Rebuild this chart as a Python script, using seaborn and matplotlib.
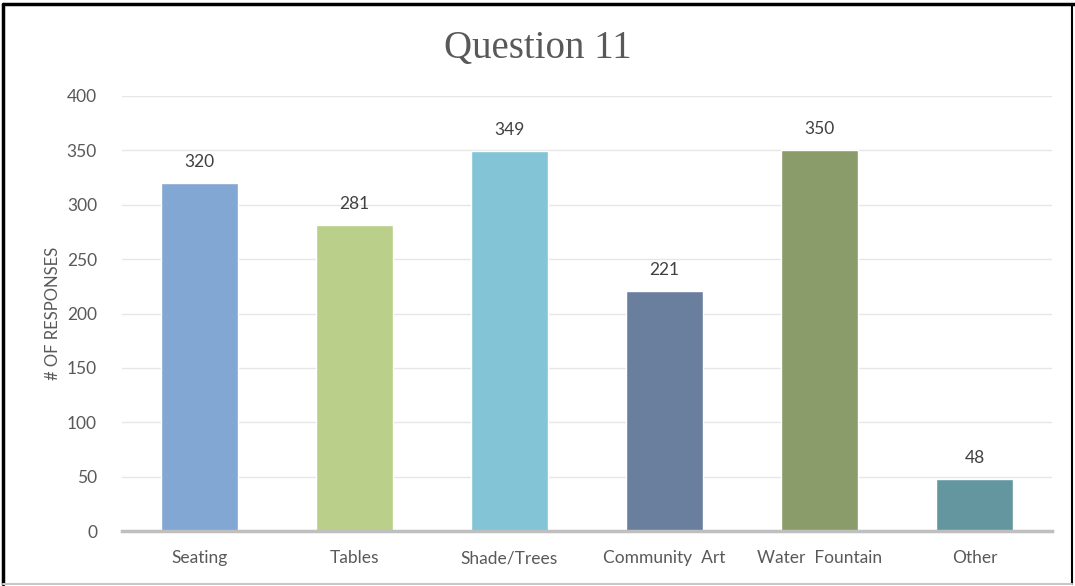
import matplotlib
matplotlib.use("Agg")
import matplotlib.pyplot as plt
from matplotlib.lines import Line2D
import seaborn as sns
import pandas as pd

categories = ["Seating", "Tables", "Shade/Trees", "Community  Art", "Water  Fountain", "Other"]
responses = [320, 281, 349, 221, 350, 48]
bar_colors = ["#82A7D2", "#BACF89", "#83C4D6", "#6A7F9D", "#8B9C6B", "#6496A0"]
y_ticks = [0, 50, 100, 150, 200, 250, 300, 350, 400]

sns.set_theme(style="white")
plt.rcParams["font.family"] = ["Lato", "DejaVu Sans"]

text_gray = "#595959"
df = pd.DataFrame({"category": categories, "responses": responses})

fig = plt.figure(figsize=(10.75, 5.86), dpi=100)
ax = fig.add_axes([122 / 1075, 1 - 531 / 586, 930 / 1075, 435 / 586])

sns.barplot(data=df, x="category", y="responses", hue="category",
            palette=bar_colors, width=0.5, saturation=1, legend=False, ax=ax, zorder=3)

ax.set_ylim(0, 400)
ax.set_xlim(-0.5, len(categories) - 0.5)
ax.set_yticks(y_ticks)
ax.yaxis.grid(True, color="#E6E6E6", linewidth=1, zorder=0)
ax.xaxis.grid(False)
for side in ["top", "right", "left"]:
    ax.spines[side].set_visible(False)
ax.spines["bottom"].set_color("#BFBFBF")
ax.spines["bottom"].set_linewidth(2.5)
ax.spines["bottom"].set_zorder(4)

ax.tick_params(axis="both", length=0, labelsize=12.5, labelcolor=text_gray)
ax.tick_params(axis="y", pad=18)
ax.tick_params(axis="x", pad=14)
ax.set_xlabel("")
ax.set_ylabel("# OF RESPONSES", fontsize=12, color=text_gray, labelpad=4)

for i, v in enumerate(responses):
    ax.text(i, v + 12, f"{v}", ha="center", va="bottom", fontsize=12.5, color="#404040")

fig.text(0.5, 1 - 48 / 586, "Question 11", ha="center", va="center",
         fontsize=28, color=text_gray, family=["Liberation Serif", "DejaVu Serif"])

# frame around the chart
fig.add_artist(Line2D([3 / 1075, 3 / 1075], [1 - 4 / 586, 1 - 584 / 586], color="black", lw=2.5, transform=fig.transFigure))
fig.add_artist(Line2D([3 / 1075, 1], [1 - 4 / 586, 1 - 4 / 586], color="black", lw=2.5, transform=fig.transFigure))
fig.add_artist(Line2D([1072 / 1075, 1072 / 1075], [1 - 4 / 586, 1 - 584 / 586], color="black", lw=1.5, transform=fig.transFigure))
fig.add_artist(Line2D([3 / 1075, 1072 / 1075], [1 - 584 / 586, 1 - 584 / 586], color="#C8C8C8", lw=1.5, transform=fig.transFigure))

fig.savefig("out.png", dpi=100)
